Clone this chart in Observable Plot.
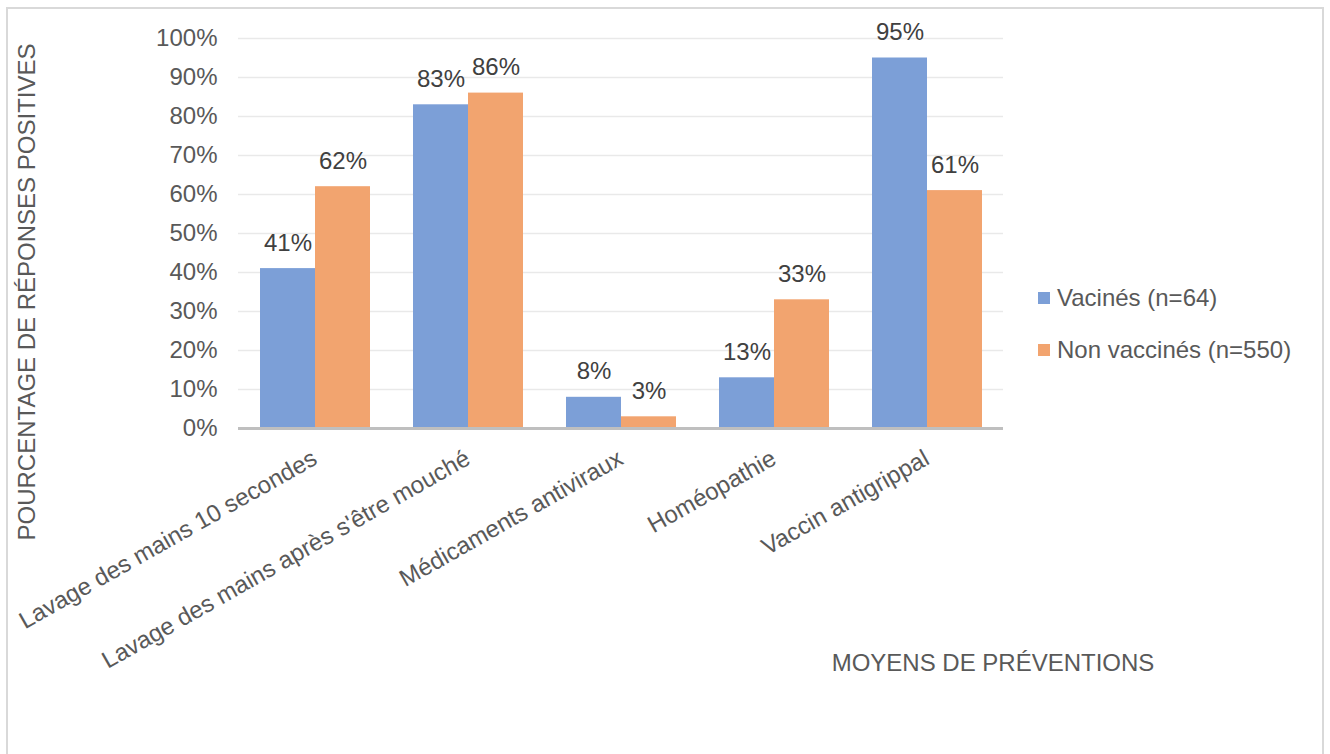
<!DOCTYPE html>
<html>
<head>
<meta charset="utf-8">
<script src="https://cdn.jsdelivr.net/npm/d3@7"></script>
<script src="https://cdn.jsdelivr.net/npm/@observablehq/plot@0.6"></script>
<style>
  html, body { margin: 0; padding: 0; background: #ffffff; }
  body { width: 1330px; height: 754px; overflow: hidden; position: relative; font-family: "Liberation Sans", Arial, sans-serif; }
  #frame { position: absolute; left: 6px; top: 7px; width: 1314px; height: 800px; border: 2px solid #d9d9d9; box-sizing: content-box; }
  #chart { position: absolute; left: 0; top: 0; }
  .t { position: absolute; font-size: 24px; line-height: 24px; color: #595959; white-space: nowrap; }
  .legend-item { position: absolute; display: flex; align-items: center; font-size: 24px; line-height: 24px; color: #595959; white-space: nowrap; transform: translateY(-50%); }
  .sw { width: 12px; height: 12px; margin-right: 7px; display: inline-block; }
</style>
</head>
<body>
<div id="frame"></div>
<div id="chart"></div>
<div class="t" id="ytitle" style="left:27px; top:292px; transform: translate(-50%,-50%) rotate(-90deg);">POURCENTAGE DE RÉPONSES POSITIVES</div>
<div class="t" id="xtitle" style="left:993px; top:663px; transform: translate(-50%,-50%);">MOYENS DE PRÉVENTIONS</div>
<div id="legend"></div>
<script>
const categories = [
  "Lavage des mains 10 secondes",
  "Lavage des mains après s'être mouché",
  "Médicaments antiviraux",
  "Homéopathie",
  "Vaccin antigrippal"
];
const seriesNames = ["Vacinés (n=64)", "Non vaccinés (n=550)"];
const vaccinated = [41, 83, 8, 13, 95];
const unvaccinated = [62, 86, 3, 33, 61];
const yTicks = [0, 10, 20, 30, 40, 50, 60, 70, 80, 90, 100];
const colors = ["#7c9fd7", "#f2a46f"];

const data = categories.flatMap((c, i) => [
  {category: c, series: seriesNames[0], value: vaccinated[i]},
  {category: c, series: seriesNames[1], value: unvaccinated[i]}
]);

const chart = Plot.plot({
  width: 1330,
  height: 754,
  marginLeft: 238,
  marginRight: 327,
  marginTop: 38,
  marginBottom: 326,
  style: {fontFamily: "'Liberation Sans', Arial, sans-serif", fontSize: "24px", color: "#595959", background: "transparent", overflow: "visible"},
  fx: {domain: categories, padding: 0, label: null, axis: "bottom", tickRotate: -29.5, tickSize: 0, tickPadding: 28},
  x: {domain: seriesNames, paddingInner: 0, paddingOuter: 0.39, axis: null},
  y: {domain: [0, 100], ticks: yTicks, tickFormat: d => d + "%", label: null, tickSize: 0, tickPadding: 21},
  color: {domain: seriesNames, range: colors},
  marks: [
    Plot.ruleY(yTicks, {stroke: "#e9e9e9", strokeWidth: 1.5}),
    Plot.barY(data, {fx: "category", x: "series", y: "value", fill: "series", inset: 0}),
    Plot.ruleY([0], {stroke: "#bfbfbf", strokeWidth: 3}),
    Plot.text(data, {fx: "category", x: "series", y: "value", text: d => d.value + "%", lineAnchor: "bottom", dy: -18, fill: "#404040", fontSize: 24})
  ]
});
document.getElementById("chart").appendChild(chart);

const legend = document.getElementById("legend");
const legendY = [298, 350];
seriesNames.forEach((name, i) => {
  const item = document.createElement("div");
  item.className = "legend-item";
  item.style.left = "1038px";
  item.style.top = legendY[i] + "px";
  const sw = document.createElement("span");
  sw.className = "sw";
  sw.style.background = colors[i];
  item.appendChild(sw);
  item.appendChild(document.createTextNode(name));
  legend.appendChild(item);
});
</script>
</body>
</html>
